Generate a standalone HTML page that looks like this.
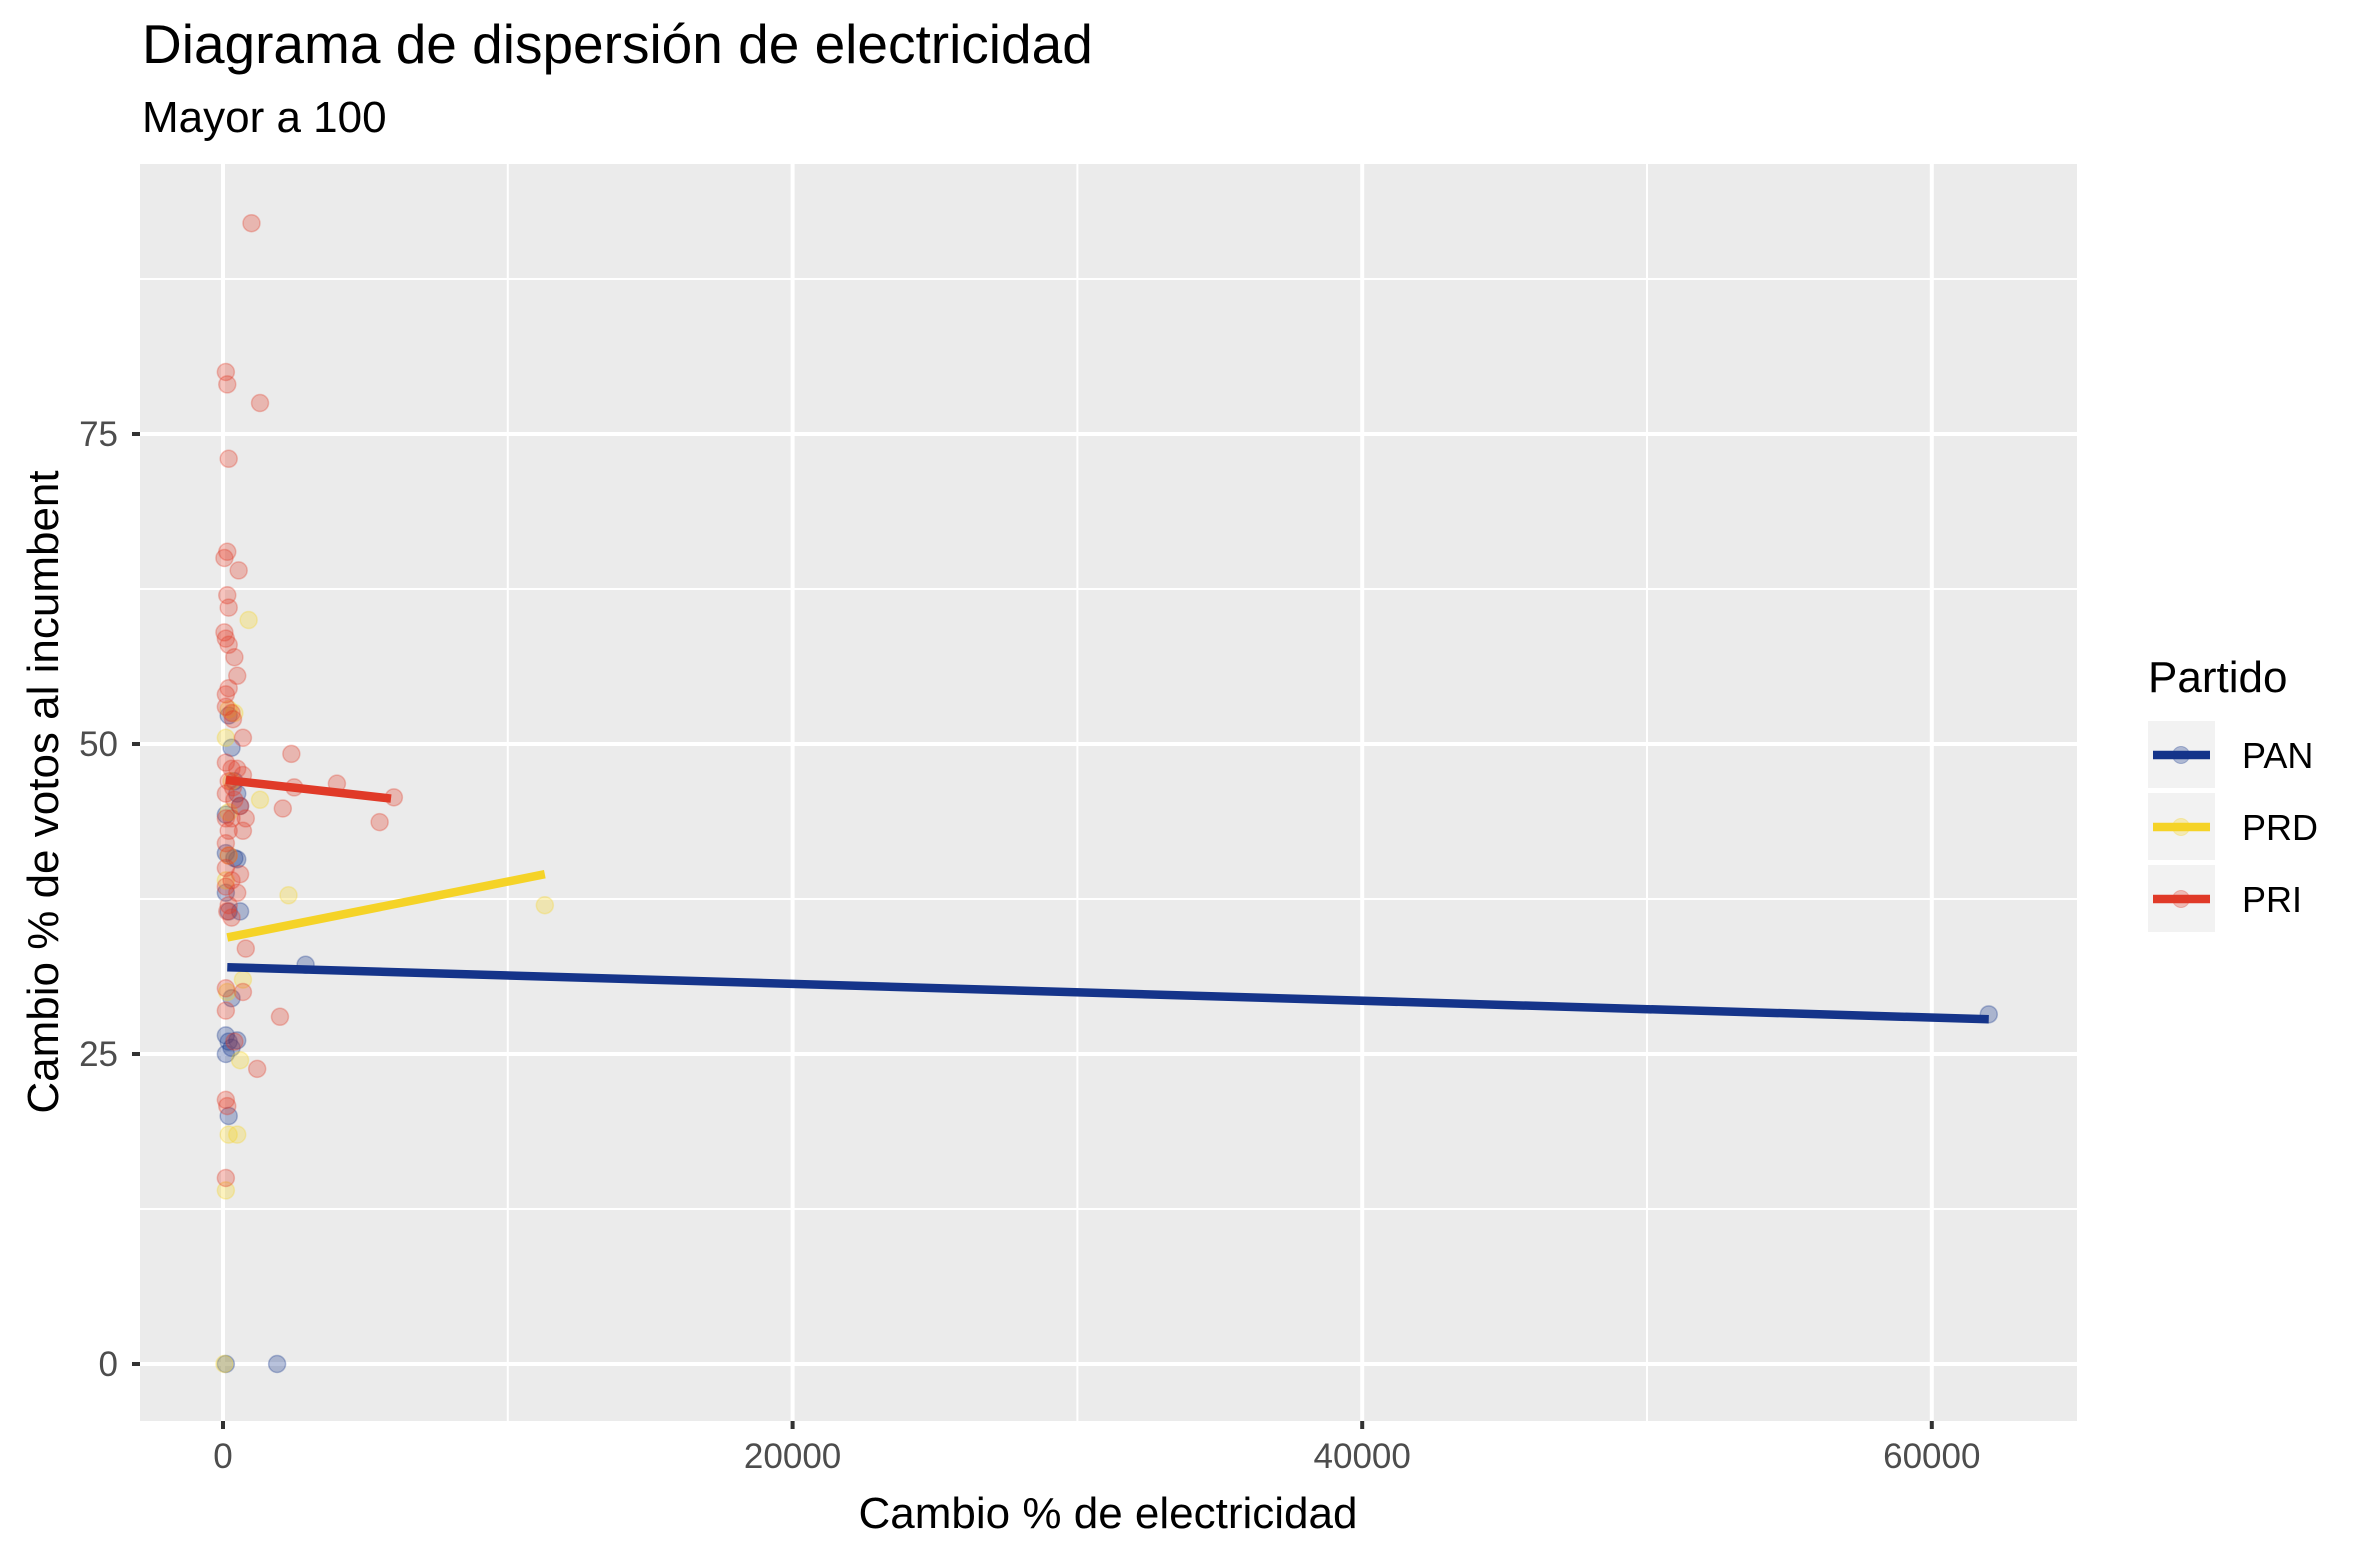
<!DOCTYPE html>
<html><head><meta charset="utf-8"><style>
html,body{margin:0;padding:0;background:#fff;}
svg{display:block;font-family:"Liberation Sans",Arial,sans-serif;}
</style></head><body>
<svg id="chart" width="2362" height="1556" viewBox="0 0 2362 1556" xmlns="http://www.w3.org/2000/svg">
<text x="142" y="63" font-size="55" fill="#000">Diagrama de dispersión de electricidad</text>
<text x="142" y="132" font-size="44" fill="#000">Mayor a 100</text>
<rect x="140" y="164" width="1937" height="1257" fill="#ebebeb"/>
<g id="grid"></g>
<g id="points"></g>
<g id="fits"></g>
<g id="axes"></g>
<text x="1108" y="1528" font-size="44" text-anchor="middle" fill="#000">Cambio % de electricidad</text>
<text transform="translate(58,792) rotate(-90)" font-size="44" text-anchor="middle" fill="#000">Cambio % de votos al incumbent</text>
<g id="legend">
<text x="2148" y="692" font-size="44" fill="#000">Partido</text>
</g>
</svg>
<script>
const xTicks=[0,20000,40000,60000];
const xMinor=[10000,30000,50000];
const yTicks=[0,25,50,75];
const yMinor=[12.5,37.5,62.5,87.5];
const parties=["PAN","PRD","PRI"];
const colors={PAN:"#15348a",PRD:"#f5d327",PRI:"#e03a28"};
const panX=[62000,2900,1900,100,300,200,400,500,600,400,500,100,600,200,100,300,100,200,300,100,200,100,500];
const panY=[28.2,32.2,0,0,49.7,52.3,47,46,45,40.8,40.7,41.2,36.5,36.5,38,29.5,26.5,26,25.5,25,20,44.3,26.1];
const prdX=[900,200,400,100,1300,200,2300,11300,100,700,150,600,500,200,100,50,200,300];
const prdY=[60,52.8,52.5,50.5,45.5,41,37.8,37,39,31,30,24.5,18.5,18.5,14,0,44.5,47];
const priX=[1000,100,150,1300,200,150,50,550,150,200,50,100,200,400,500,100,200,100,300,350,700,2400,100,300,500,700,4000,2500,6000,200,100,400,600,2100,300,100,800,200,700,100,5500,600,300,100,500,200,300,800,100,700,2000,100,400,1200,100,150,100,100,200,350,150];
const priY=[92,80,79,77.5,73,65.5,65,64,62,61,59,58.5,58,57,55.5,54,54.5,53,52.5,52,50.5,49.2,48.5,48,48,47.5,46.8,46.5,45.7,47,46,45.5,45,44.8,44,44,44,43,43,42,43.7,39.5,39,38.5,38,37,36,33.5,30.3,30,28,28.5,26,23.8,21.3,20.8,15,40,41,46.5,36.5];
const fitXStart=[150,150,100];
const fitXEnd=[62000,11300,5900];
const fitYStart=[32.0,34.4,47.1];
const fitYEnd=[27.8,39.5,45.6];

const NS="http://www.w3.org/2000/svg";
const X0=140,X1=2077,Y0=164,Y1=1421;
function sx(v){return 223+v*0.02848;}
function sy(v){return 1364-v*12.4;}
function mk(tag,attrs,parent){const e=document.createElementNS(NS,tag);for(const k in attrs)e.setAttribute(k,attrs[k]);parent.appendChild(e);return e;}
const grid=document.getElementById('grid');
yMinor.forEach(v=>{const l=mk('line',{x1:X0,x2:X1,y1:sy(v),y2:sy(v),stroke:'#fff','stroke-width':2},grid);

});
xMinor.forEach(v=>{const l=mk('line',{x1:sx(v),x2:sx(v),y1:Y0,y2:Y1,stroke:'#fff','stroke-width':2},grid);

});
yTicks.forEach(v=>{const l=mk('line',{x1:X0,x2:X1,y1:sy(v),y2:sy(v),stroke:'#fff','stroke-width':4},grid);

});
xTicks.forEach(v=>{const l=mk('line',{x1:sx(v),x2:sx(v),y1:Y0,y2:Y1,stroke:'#fff','stroke-width':4},grid);

});
const axes=document.getElementById('axes');
yTicks.forEach(v=>{const t=mk('line',{x1:X0-8,x2:X0,y1:sy(v),y2:sy(v),stroke:'#333','stroke-width':4},axes);


const tx=mk('text',{x:X0-22,y:sy(v)+12,'font-size':35,'text-anchor':'end',fill:'#4d4d4d'},axes);
tx.textContent=v;

});
xTicks.forEach(v=>{const t=mk('line',{x1:sx(v),x2:sx(v),y1:Y1,y2:Y1+8,stroke:'#333','stroke-width':4},axes);


const tx=mk('text',{x:sx(v),y:1468,'font-size':35,'text-anchor':'middle',fill:'#4d4d4d'},axes);
tx.textContent=v;

});
const pts=document.getElementById('points');
const seriesX={PAN:panX,PRD:prdX,PRI:priX};
const seriesY={PAN:panY,PRD:prdY,PRI:priY};
parties.forEach(p=>{seriesX[p].forEach((xv,i)=>{
const c=mk('circle',{cx:sx(xv),cy:sy(seriesY[p][i]),r:8.5,fill:colors[p],'fill-opacity':0.3,stroke:colors[p],'stroke-opacity':0.3,'stroke-width':1.5},pts);

});});
const fits=document.getElementById('fits');
parties.forEach((p,i)=>{
const l=mk('line',{x1:sx(fitXStart[i]),y1:sy(fitYStart[i]),x2:sx(fitXEnd[i]),y2:sy(fitYEnd[i]),stroke:colors[p],'stroke-width':8.5},fits);

});
const leg=document.getElementById('legend');
parties.forEach((p,i)=>{
const top=721+i*72;
const g=mk('g',{},leg);


mk('rect',{x:2148,y:top,width:67,height:67,fill:'#f2f2f2'},g);
mk('circle',{cx:2181,cy:top+34,r:8.5,fill:colors[p],'fill-opacity':0.3,stroke:colors[p],'stroke-opacity':0.3},g);
mk('line',{x1:2153,x2:2210,y1:top+34,y2:top+34,stroke:colors[p],'stroke-width':8.5},g);
const t=mk('text',{x:2242,y:top+47,'font-size':36,fill:'#000'},g);
t.textContent=p;});
</script>
</body></html>
